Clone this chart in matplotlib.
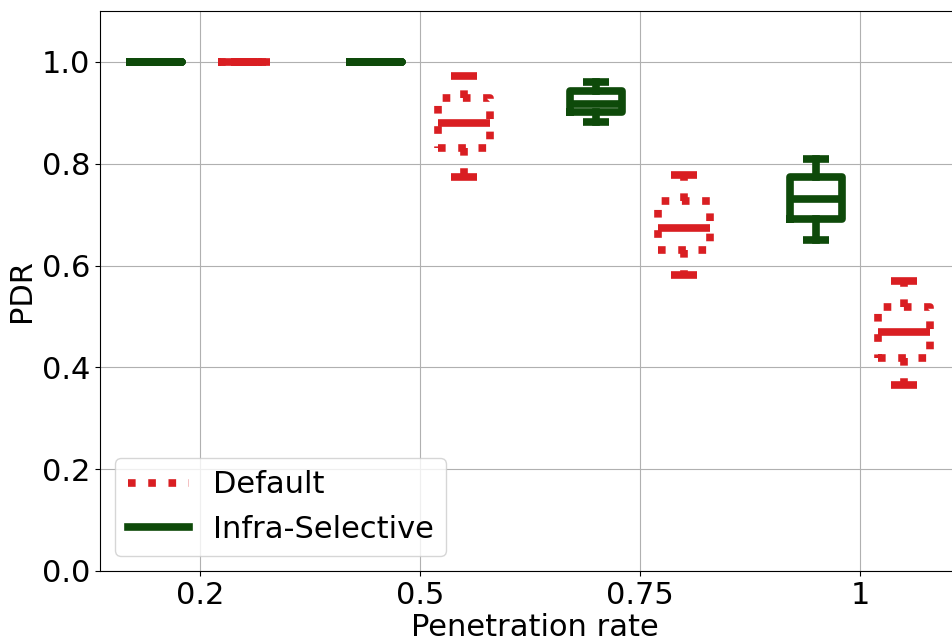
import matplotlib
matplotlib.use("Agg")
import matplotlib.pyplot as plt
from matplotlib.lines import Line2D

categories = ['0.2', '0.5', '0.75', '1']

# Default (red, dotted)
def_whislo = [1.0, 0.774, 0.582, 0.365]
def_q1     = [1.0, 0.831, 0.631, 0.418]
def_med    = [1.0, 0.880, 0.673, 0.470]
def_q3     = [1.0, 0.929, 0.726, 0.519]
def_whishi = [1.0, 0.973, 0.777, 0.569]

# Infra-Selective (green, solid)
inf_whislo = [1.0, 1.0, 0.881, 0.650]
inf_q1     = [1.0, 1.0, 0.902, 0.692]
inf_med    = [1.0, 1.0, 0.918, 0.730]
inf_q3     = [1.0, 1.0, 0.942, 0.773]
inf_whishi = [1.0, 1.0, 0.961, 0.809]

RED = '#d91e22'
GREEN = '#0e4a0a'
LW = 5.5
FS = 22

def make_stats(lo, q1, med, q3, hi):
    return [dict(whislo=a, q1=b, med=c, q3=d, whishi=e, fliers=[])
            for a, b, c, d, e in zip(lo, q1, med, q3, hi)]

fig = plt.figure(figsize=(9.52, 6.39), dpi=100)
ax = fig.add_axes([100/952, 68/639, 870/952, 560/639])

base = list(range(1, len(categories) + 1))
ax.bxp(make_stats(inf_whislo, inf_q1, inf_med, inf_q3, inf_whishi),
       positions=[p - 0.2 for p in base], widths=0.24, showfliers=False,
       boxprops=dict(color=GREEN, linewidth=LW),
       whiskerprops=dict(color=GREEN, linewidth=LW),
       capprops=dict(color=GREEN, linewidth=LW, solid_capstyle='butt'),
       medianprops=dict(color=GREEN, linewidth=LW, solid_capstyle='butt'),
       manage_ticks=False)
ax.bxp(make_stats(def_whislo, def_q1, def_med, def_q3, def_whishi),
       positions=[p + 0.2 for p in base], widths=0.24, showfliers=False,
       boxprops=dict(color=RED, linewidth=LW, linestyle=':'),
       whiskerprops=dict(color=RED, linewidth=LW, linestyle=':'),
       capprops=dict(color=RED, linewidth=LW, solid_capstyle='butt'),
       medianprops=dict(color=RED, linewidth=LW, solid_capstyle='butt'),
       manage_ticks=False)

ax.set_xticks(base)
ax.set_xticklabels(categories)
ax.set_xlim(0.545, 4.5)
ax.set_ylim(0, 1.1)
ax.set_yticks([0.0, 0.2, 0.4, 0.6, 0.8, 1.0])
ax.tick_params(labelsize=FS)
ax.grid(True, color='#b0b0b0', linewidth=0.8)
ax.set_axisbelow(True)
ax.set_xlabel('Penetration rate', fontsize=FS, labelpad=2)
ax.set_ylabel('PDR', fontsize=FS)

handles = [Line2D([], [], color=RED, linestyle=':', linewidth=LW),
           Line2D([], [], color=GREEN, linewidth=LW)]
ax.legend(handles, ['Default', 'Infra-Selective'], loc='lower left', fontsize=FS)

fig.savefig('out.png', dpi=100)
